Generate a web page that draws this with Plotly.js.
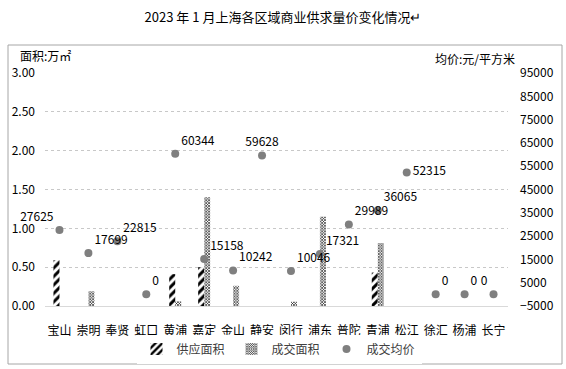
<!DOCTYPE html>
<html>
<head>
<meta charset="utf-8">
<script src="https://cdn.plot.ly/plotly-3.0.1.min.js"></script>
<style>html,body{margin:0;padding:0;background:#fff;}#chart{width:566px;height:369px;}</style>
</head>
<body>
<div id="chart"></div>
<script>
const districts = ["宝山","崇明","奉贤","虹口","黄浦","嘉定","金山","静安","闵行","浦东","普陀","青浦","松江","徐汇","杨浦","长宁"];
const supplyArea = [0.59, 0, 0, 0, 0.41, 0.50, 0, 0, 0, 0, 0, 0.43, 0, 0, 0, 0];
const dealArea = [0, 0.19, 0, 0, 0.06, 1.40, 0.26, 0, 0.055, 1.15, 0, 0.81, 0, 0, 0, 0];
const avgPrice = [27625, 17699, 22815, 0, 60344, 15158, 10242, 59628, 10046, 17321, 29989, 36065, 52315, 0, 0, 0];
const seriesNames = ["供应面积", "成交面积", "成交均价"];
const leftTicks = [0, 0.5, 1, 1.5, 2, 2.5, 3];
const rightTicks = [-5000, 5000, 15000, 25000, 35000, 45000, 55000, 65000, 75000, 85000, 95000];

const labelPos = ["top left","top right","top right","top right","top right","top right","top right","top center","top right","top right","top right","top right","middle right","top right","top right","top left"];
const FONT = '"Noto Sans CJK SC", "Microsoft YaHei", sans-serif';

const traces = [
  {
    type: 'bar', name: seriesNames[0], x: districts, y: supplyArea,
    marker: {color: '#ffffff', line: {width: 0},
      pattern: {shape: '/', fgcolor: '#000000', bgcolor: '#ffffff', size: 6, solidity: 0.5}},
    hoverinfo: 'skip'
  },
  {
    type: 'bar', name: seriesNames[1], x: districts, y: dealArea,
    marker: {color: '#ffffff', line: {width: 0},
      pattern: {shape: 'x', fgcolor: '#000000', bgcolor: '#ffffff', size: 2, solidity: 0.5}},
    hoverinfo: 'skip'
  },
  {
    type: 'scatter', mode: 'markers+text', name: seriesNames[2], x: districts, y: avgPrice, yaxis: 'y2',
    marker: {color: '#7f7f7f', size: 8},
    text: avgPrice.map(String), textposition: labelPos,
    textfont: {family: FONT, size: 12, color: '#000000'},
    cliponaxis: false, hoverinfo: 'skip'
  }
];

const layout = {
  width: 566, height: 369,
  margin: {l: 45, r: 58, t: 73, b: 63},
  paper_bgcolor: '#ffffff', plot_bgcolor: '#ffffff',
  font: {family: FONT, size: 12, color: '#000000'},
  barmode: 'group', bargap: 0.585, bargroupgap: 0,
  showlegend: true,
  title: {text: '2023 年 1 月上海各区域商业供求量价变化情况↵', x: 0.5, xanchor: 'center', y: 1 - 17/369, yanchor: 'middle', yref: 'container',
    font: {family: FONT, size: 13, color: '#000000'}},
  xaxis: {type: 'category', range: [-0.5, districts.length - 0.5], automargin: false, showline: true, linecolor: '#d9d9d9', linewidth: 1, ticks: '', showgrid: false,
    tickfont: {family: FONT, size: 12, color: '#000000'}, ticklabelstandoff: 14, fixedrange: true},
  yaxis: {automargin: false, range: [0, 3], tickvals: leftTicks, tickformat: '.2f', showgrid: true, gridcolor: '#c8c8c8', griddash: 'dot', gridwidth: 1,
    zeroline: false, showline: false, ticks: '', ticklabelstandoff: 9, tickfont: {family: FONT, size: 12, color: '#000000'}},
  yaxis2: {automargin: false, overlaying: 'y', side: 'right', range: [-5000, 95000], tickvals: rightTicks, tickformat: 'd', showgrid: false, zeroline: false,
    showline: false, ticks: '', ticklabelstandoff: 11, tickfont: {family: FONT, size: 12, color: '#000000'}},
  legend: {orientation: 'h', xref: 'container', yref: 'container', x: 279 / 566, xanchor: 'center', y: 1 - 349 / 369, yanchor: 'middle',
    font: {family: FONT, size: 12, color: '#404040'}, itemwidth: 30, entrywidth: 50, entrywidthmode: 'pixels', tracegroupgap: 0, traceorder: 'normal'},
  annotations: [
    {text: '面积:万㎡', xref: 'paper', yref: 'paper', x: (18 - 45) / 463, y: (306 - 55) / 233, xanchor: 'left', yanchor: 'middle', showarrow: false,
      font: {family: FONT, size: 12, color: '#000000'}},
    {text: '均价:元/平方米', xref: 'paper', yref: 'paper', x: (517 - 45) / 463, y: (306 - 58) / 233, xanchor: 'right', yanchor: 'middle', showarrow: false,
      font: {family: FONT, size: 12, color: '#000000'}}
  ],
  shapes: [
    {type: 'rect', xref: 'paper', yref: 'paper', x0: (8 - 45) / 463, x1: (562 - 45) / 463, y0: (306 - 364) / 233, y1: (306 - 45) / 233,
      line: {color: '#a6a6a6', width: 1}, fillcolor: 'rgba(0,0,0,0)', layer: 'below'}
  ]
};

Plotly.newPlot('chart', traces, layout, {staticPlot: true, displayModeBar: false});
</script>
</body>
</html>
